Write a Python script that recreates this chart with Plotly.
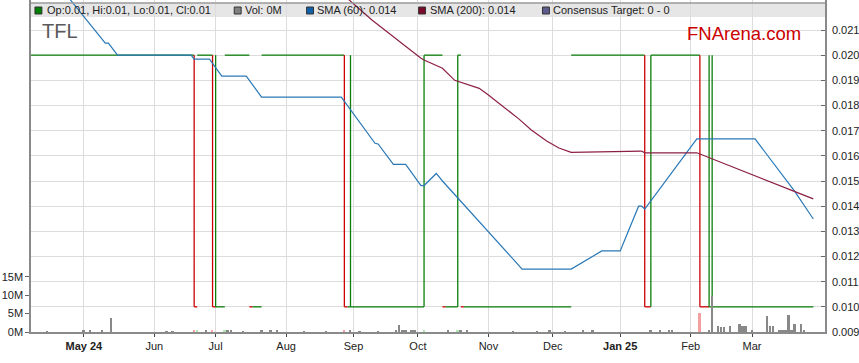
import numpy as np
import plotly.graph_objects as go

BASE = "2024-05-01"

def idx(dates):
    return np.busday_count(BASE, np.array(dates, dtype="datetime64[D]")).astype(float)

# ---------------- data ----------------
# closing price runs: date the close changed, new close, direction (up=green, down=red)
run_start = ["2024-04-04", "2024-06-20", "2024-06-21", "2024-06-28", "2024-07-01", "2024-07-04",
             "2024-07-16", "2024-07-17", "2024-07-22", "2024-08-28", "2024-08-29", "2024-10-03",
             "2024-10-11", "2024-10-14", "2024-10-18", "2024-10-21", "2024-10-22", "2024-12-10",
             "2025-01-13", "2025-01-15", "2025-02-06", "2025-02-11"]
run_close = [0.020, 0.010, 0.020, 0.010, 0.010, 0.020,
             0.010, 0.010, 0.020, 0.010, 0.010, 0.020,
             0.010, 0.010, 0.020, 0.010, 0.010, 0.020,
             0.010, 0.020, 0.010, 0.010]
run_dir = ["up", "down", "up", "down", "up", "up",
           "down", "up", "up", "down", "up", "up",
           "down", "up", "up", "down", "up", "up",
           "down", "up", "down", "up"]
last_date = "2025-03-31"

# daily high-low ranges (days with intraday range)
rng_dates = ["2024-06-20", "2024-06-28", "2024-07-01", "2024-08-28", "2024-08-30", "2024-10-03",
             "2024-10-18", "2025-01-13", "2025-01-15", "2025-02-06", "2025-02-11", "2025-02-12"]
rng_low = [0.010] * 12
rng_high = [0.020] * 12
rng_dir = ["down", "down", "up", "down", "up", "up", "up", "down", "up", "down", "up", "up"]

# volume (millions of shares)
vol_dates = ["2024-04-15", "2024-05-01", "2024-05-03", "2024-05-09", "2024-05-14", "2024-06-07",
             "2024-06-11", "2024-06-20", "2024-06-21", "2024-06-26", "2024-06-28", "2024-07-04",
             "2024-07-05", "2024-07-08", "2024-07-12", "2024-07-22", "2024-07-25", "2024-07-29",
             "2024-08-09", "2024-08-20", "2024-08-28", "2024-08-30", "2024-09-04", "2024-09-12",
             "2024-09-20", "2024-09-23", "2024-09-24", "2024-09-25", "2024-09-27", "2024-09-30",
             "2024-10-03", "2024-10-15", "2024-10-18", "2024-10-21", "2024-10-23", "2024-11-13",
             "2024-11-25", "2024-11-29", "2024-12-06", "2024-12-16", "2024-12-19", "2025-01-15",
             "2025-01-20", "2025-01-23", "2025-01-24", "2025-02-06", "2025-02-11", "2025-02-12",
             "2025-02-14", "2025-02-17", "2025-02-18", "2025-02-20", "2025-02-25", "2025-02-26",
             "2025-02-27", "2025-03-03", "2025-03-10", "2025-03-11", "2025-03-12", "2025-03-14",
             "2025-03-17", "2025-03-18", "2025-03-19", "2025-03-20", "2025-03-21", "2025-03-25",
             "2025-03-26"]
vol_m = [0.25, 0.3, 0.3, 0.3, 3.9, 0.2,
         0.2, 0.6, 0.3, 0.3, 0.5, 0.3,
         0.3, 0.3, 0.2, 0.3, 0.3, 0.6,
         0.2, 0.2, 0.6, 0.6, 0.2, 0.2,
         0.5, 1.9, 0.3, 0.3, 0.3, 0.3,
         0.3, 0.3, 0.3, 0.3, 0.3, 0.2,
         0.2, 0.3, 0.2, 0.6, 0.3, 0.6,
         0.3, 0.3, 0.3, 5.3, 0.45, 9.8,
         1.5, 1.4, 1.3, 1.5, 2.3, 1.5,
         1.5, 0.3, 4.4, 1.5, 1.5, 0.3,
         0.35, 0.5, 4.5, 0.5, 2.3, 2.3,
         0.3]
vol_down_days = ["2024-06-20", "2024-06-28", "2024-08-28", "2025-02-06"]
vol_up_days = ["2024-06-21", "2024-07-04", "2024-10-03", "2024-10-18"]

# SMA 60
sma60_dates = ["2024-04-08", "2024-05-10", "2024-05-13", "2024-05-16", "2024-06-19", "2024-06-20",
               "2024-06-27", "2024-07-03", "2024-07-15", "2024-07-22", "2024-08-27", "2024-09-11",
               "2024-09-12", "2024-09-19", "2024-09-25", "2024-10-02", "2024-10-03", "2024-10-09",
               "2024-10-11", "2024-11-18", "2024-12-10", "2024-12-24", "2025-01-01", "2025-01-09",
               "2025-01-10", "2025-01-13", "2025-02-05", "2025-03-04", "2025-03-21", "2025-03-31"]
sma60_vals = [0.0241, 0.02048, 0.02048, 0.0200, 0.0200, 0.01984,
              0.01984, 0.01917, 0.01917, 0.01833, 0.01833, 0.0165,
              0.01647, 0.01566, 0.01566, 0.01482, 0.01482, 0.0153,
              0.0150, 0.0115, 0.0115, 0.01222, 0.01222, 0.0140,
              0.0140, 0.01388, 0.01667, 0.01667, 0.01458, 0.01349]

# SMA 200
sma200_dates = ["2024-08-20", "2024-09-10", "2024-10-02", "2024-10-03", "2024-10-11", "2024-10-17",
                "2024-10-29", "2024-11-01", "2024-11-15", "2024-11-21", "2024-11-28", "2024-12-04",
                "2024-12-10", "2025-01-10", "2025-01-13", "2025-02-05", "2025-03-21", "2025-03-26",
                "2025-03-31"]
sma200_vals = [0.0230, 0.0214, 0.01988, 0.01981, 0.01948, 0.0190,
               0.01868, 0.01842, 0.01746, 0.01703, 0.01659, 0.01631,
               0.01614, 0.01619, 0.01612, 0.01612, 0.01458, 0.01442,
               0.01429]

month_starts = ["2024-05-01", "2024-06-01", "2024-07-01", "2024-08-01", "2024-09-01", "2024-10-01",
                "2024-11-01", "2024-12-01", "2025-01-01", "2025-02-01", "2025-03-01"]
month_labels = ["<b>May 24</b>", "Jun", "Jul", "Aug", "Sep", "Oct", "Nov", "Dec",
                "<b>Jan 25</b>", "Feb", "Mar"]
price_ticks = [0.009, 0.010, 0.011, 0.012, 0.013, 0.014, 0.015, 0.016, 0.017, 0.018, 0.019, 0.020, 0.021]

# ---------------- styling ----------------
GREEN = "#0b7d0b"
RED = "#cc0000"
W, H = 859, 363
ML, MR, MT, MB = 31, 27, 0, 31
PW, PH = W - ML - MR, H - MT - MB
FONT = "Liberation Sans, Arial, sans-serif"

def px(xp):
    return (xp - ML) / PW

def py(yp):
    return 1 - (yp - MT) / PH

fig = go.Figure()

# step close line
starts = idx(run_start)
ends = np.append(starts[1:], idx([last_date]))
for direction, colour in (("up", GREEN), ("down", RED)):
    xs, ys = [], []
    for s, e, v, d in zip(starts, ends, run_close, run_dir):
        if d == direction:
            xs += [s, e, None]
            ys += [v, v, None]
    fig.add_trace(go.Scatter(x=xs, y=ys, mode="lines", line=dict(color=colour, width=1.3),
                             hoverinfo="skip", showlegend=False))

# intraday range bars
rx = idx(rng_dates)
for direction, colour in (("up", GREEN), ("down", RED)):
    xs, ys = [], []
    for x, lo, hi, d in zip(rx, rng_low, rng_high, rng_dir):
        if d == direction:
            xs += [x, x, None]
            ys += [lo, hi, None]
    fig.add_trace(go.Scatter(x=xs, y=ys, mode="lines", line=dict(color=colour, width=1.3),
                             hoverinfo="skip", showlegend=False))

# SMAs
fig.add_trace(go.Scatter(x=idx(sma60_dates), y=sma60_vals, mode="lines",
                         line=dict(color="#2a78b6", width=1.2), showlegend=False))
fig.add_trace(go.Scatter(x=idx(sma200_dates), y=sma200_vals, mode="lines",
                         line=dict(color="#8c1f45", width=1.2), showlegend=False))

# volume
vcol = {"flat": "#888888", "down": "#f4a0a0", "up": "#b0e4b0"}
vol_colors = [vcol["down"] if d in vol_down_days else vcol["up"] if d in vol_up_days else vcol["flat"]
              for d in vol_dates]
fig.add_trace(go.Bar(x=idx(vol_dates), y=vol_m, width=0.6, yaxis="y2",
                     marker=dict(color=vol_colors, line=dict(width=0)),
                     showlegend=False))

fig.update_layout(
    width=W, height=H, margin=dict(l=ML, r=MR, t=MT, b=MB),
    paper_bgcolor="white", plot_bgcolor="white",
    font=dict(family=FONT, size=11, color="#222"),
    bargap=0,
    xaxis=dict(range=[(ML - 84.3) / 3.092, (ML + PW - 84.3) / 3.092],
               tickvals=idx(month_starts), ticktext=month_labels,
               showgrid=True, gridcolor="#dcdcdc", gridwidth=1, zeroline=False,
               showline=True, linecolor="#8a8a8a", linewidth=1.5,
               ticks="outside", ticklen=3, tickcolor="#444", tickfont=dict(size=11, color="#222")),
    yaxis=dict(side="right", range=[0.009, 0.009 + PH / 25167.0],
               tickvals=price_ticks, tickformat=".3f",
               showgrid=True, gridcolor="#dcdcdc", gridwidth=1, zeroline=False,
               showline=True, linecolor="#8a8a8a", linewidth=1.5,
               ticks="inside", ticklen=4, tickcolor="#666", ticklabelstandoff=3,
               tickfont=dict(size=11, color="#222")),
    yaxis2=dict(overlaying="y", side="left", range=[0, PH / 3.68],
                tickvals=[0, 5, 10, 15], ticktext=["0M", "5M", "10M", "15M"],
                showgrid=False, zeroline=False,
                showline=True, linecolor="#8a8a8a", linewidth=1.5,
                ticks="outside", ticklen=4, tickcolor="#666", tickfont=dict(size=11, color="#222")),
)

shapes = []
# legend band + top border
shapes.append(dict(type="rect", xref="paper", yref="paper", x0=0, x1=1, y0=py(17), y1=py(3),
                   fillcolor="#e6e6e6", line=dict(width=0), layer="between"))
shapes.append(dict(type="line", xref="paper", yref="paper", x0=0, x1=1, y0=py(3), y1=py(3),
                   line=dict(color="#9a9a9a", width=1.5), layer="above"))

legend_items = [("Op:0.01, Hi:0.01, Lo:0.01, Cl:0.01", "#008000", 35, 47),
                ("Vol: 0M", "#808080", 236, 247),
                ("SMA (60): 0.014", "#1060a8", 309, 320),
                ("SMA (200): 0.014", "#7a0a2a", 422, 433),
                ("Consensus Target: 0 - 0", "#5c5c8c", 547, 558)]
annotations = []
for text, colour, sx, tx in legend_items:
    shapes.append(dict(type="rect", xref="paper", yref="paper", x0=px(sx), x1=px(sx + 7),
                       y0=py(14), y1=py(7), fillcolor=colour, line=dict(color="#333", width=1),
                       layer="above"))
    annotations.append(dict(text=text, xref="paper", yref="paper", x=px(tx - 2), y=py(10.5),
                            xanchor="left", yanchor="middle", showarrow=False,
                            font=dict(size=11, color="#222", family=FONT)))

annotations.append(dict(text="TFL", xref="paper", yref="paper", x=px(40), y=py(31),
                        xanchor="left", yanchor="middle", showarrow=False,
                        font=dict(size=20, color="#5a5a5a", family=FONT)))
annotations.append(dict(text="FNArena.com", xref="paper", yref="paper", x=px(691), y=py(34),
                        xanchor="left", yanchor="middle", showarrow=False,
                        font=dict(size=18.5, color="#cc0000", family=FONT)))

fig.update_layout(shapes=shapes, annotations=annotations)
fig.write_html("out.html", config={"displayModeBar": False},
               post_script="document.body.style.margin='0';document.body.style.overflow='hidden';")
